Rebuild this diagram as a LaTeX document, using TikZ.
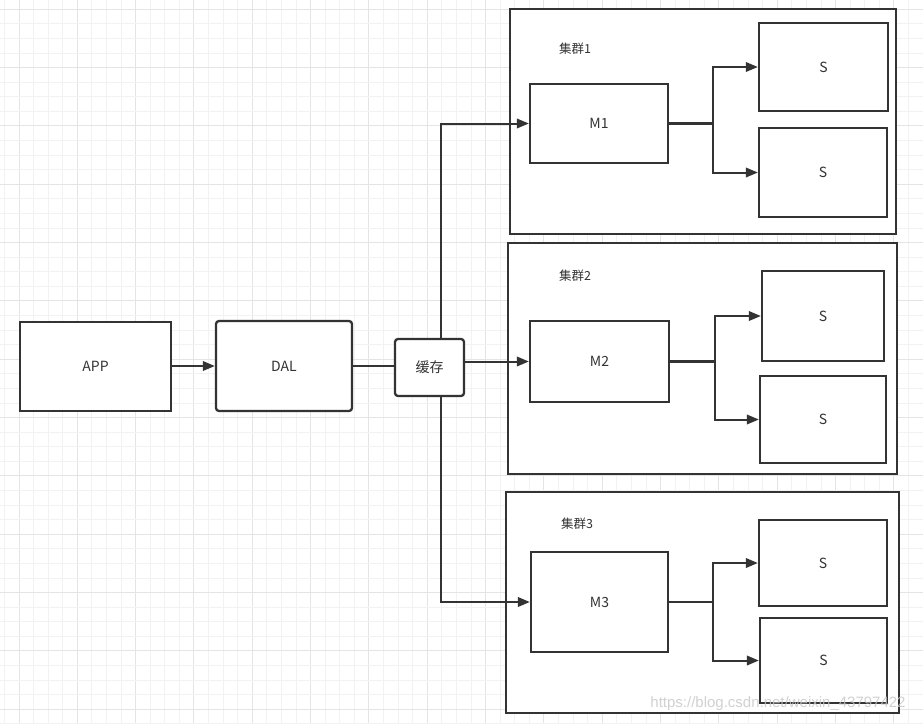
\documentclass[tikz,border=0pt]{standalone}
\usepackage{fontspec}
\newfontfamily\cjk{Noto Sans CJK SC}
\usetikzlibrary{arrows.meta}
\definecolor{ink}{HTML}{333333}
\definecolor{gridminor}{HTML}{F2F2F2}
\definecolor{gridmajor}{HTML}{E4E4E4}
\begin{document}
\begin{tikzpicture}[x=1pt,y=-1pt,
  box/.style={draw=ink, line width=2.3pt, fill=white, inner sep=0pt, text=ink,
    font=\cjk\fontsize{14}{16}\selectfont},
  rbox/.style={box, rounded corners=3pt},
  group/.style={draw=ink, line width=2.3pt, fill=white, inner sep=0pt},
  grouplabel/.style={text=ink, inner sep=0pt, font=\cjk\fontsize{12.5}{14}\selectfont},
  conn/.style={draw=ink, line width=2pt},
  arr/.style={conn, -{Triangle[length=12pt,width=9.5pt]}}
]
\useasboundingbox (0,0) rectangle (923,723);
\fill[white] (0,0) rectangle (923,723);
% grid
\foreach \i in {0,...,63}{
  \pgfmathsetmacro{\gx}{4.417+\i*14.583}
  \pgfmathtruncatemacro{\m}{mod(\i,4)}
  \ifnum\m=1
    \draw[gridmajor, line width=1pt] (\gx,0) -- (\gx,723);
  \else
    \draw[gridminor, line width=1pt] (\gx,0) -- (\gx,723);
  \fi
}
\foreach \i in {0,...,49}{
  \pgfmathsetmacro{\gy}{9.33+\i*14.583}
  \pgfmathtruncatemacro{\m}{mod(\i,4)}
  \ifnum\m=0
    \draw[gridmajor, line width=1pt] (0,\gy) -- (923,\gy);
  \else
    \draw[gridminor, line width=1pt] (0,\gy) -- (923,\gy);
  \fi
}

% left chain
\node[box, minimum width=151pt, minimum height=89pt] (app) at (95.5,366.5) {APP};
\node[rbox, minimum width=136pt, minimum height=90pt] (dal) at (284,366) {DAL};
\node[rbox, minimum width=69pt, minimum height=57pt] (cache) at (429.5,367.5) {缓存};

% cluster frames
\node[group, minimum width=386pt, minimum height=225pt] (c1) at (703,121.5) {};
\node[group, minimum width=389pt, minimum height=231pt] (c2) at (702.5,358.5) {};
\node[group, minimum width=393pt, minimum height=221pt] (c3) at (702.5,602.5) {};
\node[grouplabel] (l1) at (575,49) {集群1};
\node[grouplabel] (l2) at (575,276) {集群2};
\node[grouplabel] (l3) at (577,524) {集群3};

% masters
\node[box, minimum width=138pt, minimum height=79pt] (m1) at (599,123.5) {M1};
\node[box, minimum width=139pt, minimum height=81pt] (m2) at (599.5,361.5) {M2};
\node[box, minimum width=137pt, minimum height=100pt] (m3) at (599.5,602) {M3};

% slaves
\node[box, minimum width=129pt, minimum height=88pt] (s11) at (823.5,67) {S};
\node[box, minimum width=128pt, minimum height=89pt] (s12) at (823,172.5) {S};
\node[box, minimum width=122pt, minimum height=90pt] (s21) at (823,316) {S};
\node[box, minimum width=126pt, minimum height=87pt] (s22) at (823,419.5) {S};
\node[box, minimum width=128pt, minimum height=86pt] (s31) at (823,563) {S};
\node[box, minimum width=127pt, minimum height=85pt] (s32) at (823.5,660.5) {S};

% connectors
\draw[arr] (dal.west -| app.east) -- (dal.west);
\draw[conn, line width=2.6pt] (dal.east) -- (dal.east -| cache.west);
\draw[arr] ([xshift=11.5pt]cache.north) |- (m1.west);
\draw[arr] (cache.east |- m2.west) -- (m2.west);
\draw[arr] ([xshift=11.5pt]cache.south) |- (m3.west);

\coordinate (b1) at (713,123.5);
\coordinate (b2) at (715,361.5);
\coordinate (b3) at (713,602);
\draw[conn, line width=2.6pt] (m1.east) -- (b1);
\draw[arr] (b1) |- (s11.west);
\draw[arr] (b1) |- (s12.west);
\draw[conn, line width=2.6pt] (m2.east) -- (b2);
\draw[arr] (b2) |- (s21.west);
\draw[arr] (b2) |- (s22.west);
\draw[conn, line width=2.6pt] (m3.east) -- (b3);
\draw[arr] (b3) |- (s31.west);
\draw[arr] (b3) |- (s32.west);

% watermark
\node[text=gray!45, opacity=0.8, inner sep=0pt, font=\fontspec{Liberation Sans}\fontsize{15}{17}\selectfont] (wm) at (778,704) {https://blog.csdn.net/weixin\_43797422};
\end{tikzpicture}
\end{document}
